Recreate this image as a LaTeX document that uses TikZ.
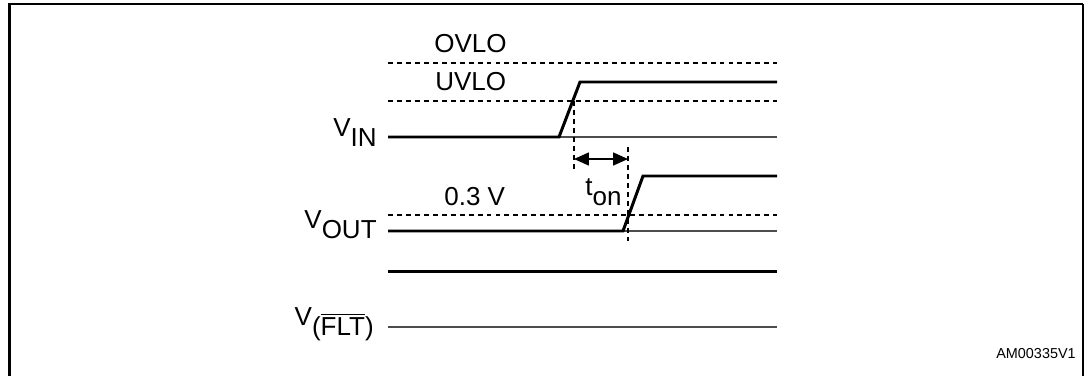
\documentclass[tikz,border=0pt]{standalone}
\usepackage{fontspec}
\setmainfont{Liberation Sans}
\usetikzlibrary{arrows.meta}
\newcommand{\lowsub}[2]{#1\raisebox{-5.7pt}{#2}}
\begin{document}
\begin{tikzpicture}[x=0.02cm,y=-0.02cm,
    trace/.style={line width=1.7pt},
    ground/.style={line width=0.8pt,black!70},
    level/.style={line width=0.6pt,dash pattern=on 2.8pt off 2.3pt},
    lbl/.style={font=\fontsize{14.8}{17}\selectfont,inner sep=0pt},
    tiny/.style={font=\fontsize{8.2}{10}\selectfont,inner sep=0pt}]
\useasboundingbox (0,0) rectangle (1085,376);
% frame, open at the bottom
\draw[line width=1.6pt] (9.8,376) -- (9.8,4) -- (1083,4);
\draw[line width=0.8pt] (1083,4) -- (1083,376);

% thresholds
\coordinate (ovL) at (388,63);  \coordinate (ovR) at (777,63);
\coordinate (uvL) at (388,101); \coordinate (uvR) at (777,101);
\coordinate (tvL) at (388,215); \coordinate (tvR) at (777,215);
\draw[level] (ovL) -- (ovR);
\draw[level] (uvL) -- (uvR);
\draw[level] (tvL) -- (tvR);
\node[lbl,anchor=base west] (ovlo) at (434,52) {OVLO};
\node[lbl,anchor=base west] (uvlo) at (435,90) {UVLO};
\node[lbl,anchor=base west] (vthr) at (444,205) {0.3 V};

% V_IN
\coordinate (inL) at (388,137);  \coordinate (inR) at (777,137);
\coordinate (inA) at (559,137);  \coordinate (inB) at (580,82);
\coordinate (inH) at (777,82);
\draw[ground] (inA) -- (inR);
\draw[trace] (inL) -- (inA) -- (inB) -- (inH);
\node[lbl,anchor=base east] (vin) at (377,136) {\lowsub{V}{IN}};

% V_OUT
\coordinate (outL) at (388,231); \coordinate (outR) at (777,231);
\coordinate (outA) at (623,231); \coordinate (outB) at (643,176);
\coordinate (outH) at (777,176);
\draw[ground] (outA) -- (outR);
\draw[trace] (outL) -- (outA) -- (outB) -- (outH);
\node[lbl,anchor=base east] (vout) at (377,228) {\lowsub{V}{OUT}};

% t_on
\coordinate (m1top) at (574,101); \coordinate (m1bot) at (574,170);
\coordinate (m2top) at (628,147); \coordinate (m2bot) at (628,241);
\draw[level] (m1top) -- (m1bot);
\draw[level] (m2top) -- (m2bot);
\coordinate (ton0) at (574,159); \coordinate (ton1) at (628,159);
\draw[line width=0.8pt,{Triangle[length=8.5pt,width=7.4pt]}-{Triangle[length=8.5pt,width=7.4pt]}] (ton0) -- (ton1);
\node[lbl,anchor=base west] (ton) at (585,195) {\lowsub{t}{on}};

% V_(FLT)
\coordinate (fhL) at (388,271); \coordinate (fhR) at (777,271);
\coordinate (flL) at (388,327); \coordinate (flR) at (777,327);
\draw[trace] (fhL) -- (fhR);
\draw[ground] (flL) -- (flR);
\node[lbl,anchor=base east] (vflt) at (374,325) {\lowsub{V}{($\overline{\hbox{FLT}}$)}};

\node[tiny,anchor=base east] (code) at (1076,358) {AM00335V1};
\end{tikzpicture}
\end{document}
